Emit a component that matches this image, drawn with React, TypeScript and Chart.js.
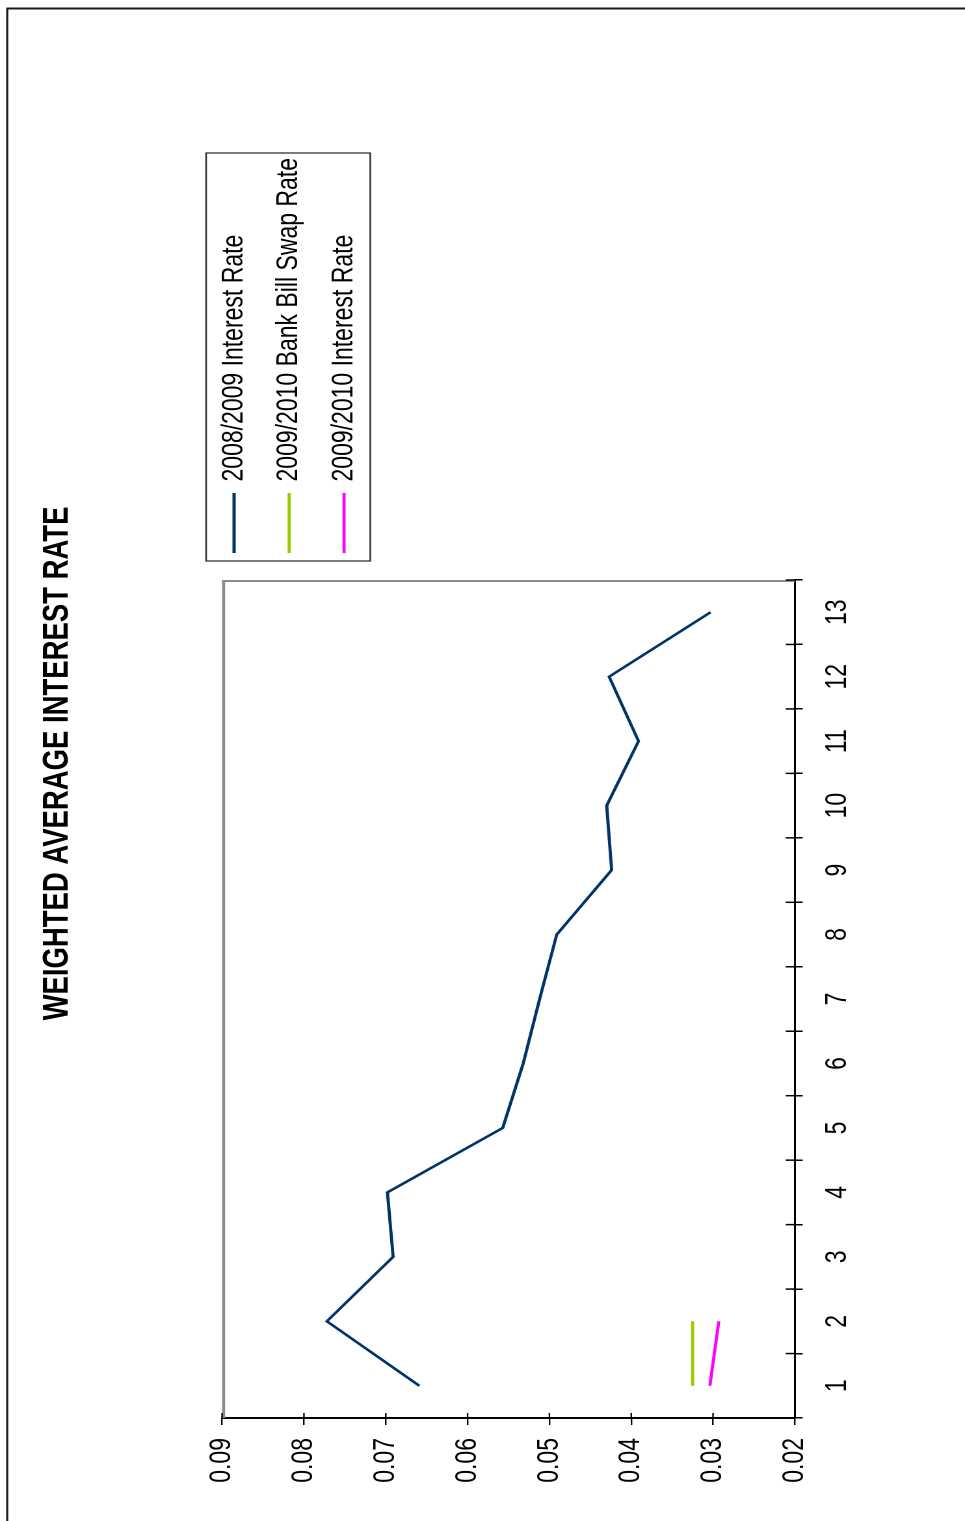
import React, { useEffect, useRef } from 'react';
import { Chart, registerables } from 'chart.js';

Chart.register(...registerables);

// ---- data ----
const TITLE = 'WEIGHTED AVERAGE INTEREST RATE';
const categories = ['1', '2', '3', '4', '5', '6', '7', '8', '9', '10', '11', '12', '13'];
const seriesLabels = [
  '2008/2009 Interest Rate',
  '2009/2010 Bank Bill Swap Rate',
  '2009/2010 Interest Rate',
];
const rate0809 = [0.0659, 0.0772, 0.0691, 0.0698, 0.0557, 0.0532, 0.0512, 0.0491, 0.0424, 0.043, 0.0391, 0.0427, 0.0303];
const swap0910 = [0.0325, 0.0325, null, null, null, null, null, null, null, null, null, null, null];
const rate0910 = [0.0304, 0.0293, null, null, null, null, null, null, null, null, null, null, null];
const Y_MIN = 0.02;
const Y_MAX = 0.09;
const Y_STEP = 0.01;

const FONT = "'Liberation Sans', Arial, sans-serif";
const W = 1521;
const FULL_H = 965;
const H = 742; // drawn height, stretched back to FULL_H
const SY = FULL_H / H;

const decor = {
  id: 'decor',
  afterLayout(chart: any) {
    const lg = chart.legend;
    const ca = chart.chartArea;
    if (!lg) return;
    lg.left = ca.right + 7.7;
    lg.top = ca.top - 21.6;
    lg.right = lg.left + 600;
    lg.bottom = lg.top + 400;
  },
  beforeDraw(chart: any) {
    const { ctx, width, height } = chart;
    ctx.save();
    ctx.fillStyle = '#ffffff';
    ctx.fillRect(0, 0, width, height);
    ctx.strokeStyle = '#1a1a1a';
    ctx.lineWidth = 1.6;
    ctx.beginPath();
    ctx.moveTo(-5, 5.6);
    ctx.lineTo(width - 8.5, 5.6);
    ctx.stroke();
    ctx.lineWidth = 2;
    ctx.beginPath();
    ctx.moveTo(width - 8.5, 5);
    ctx.lineTo(width - 8.5, height + 5);
    ctx.stroke();
    ctx.restore();
  },
  beforeDatasetsDraw(chart: any) {
    const { ctx, chartArea: ca, scales } = chart;
    ctx.save();
    ctx.strokeStyle = '#8c8c8c';
    ctx.lineWidth = 2.3;
    ctx.beginPath();
    ctx.moveTo(ca.left, ca.top + 1.15);
    ctx.lineTo(ca.right, ca.top + 1.15);
    ctx.stroke();
    ctx.lineWidth = 2;
    ctx.beginPath();
    ctx.moveTo(ca.right - 1, ca.top);
    ctx.lineTo(ca.right - 1, ca.bottom);
    ctx.stroke();
    // inner halves of the crossing tick marks
    ctx.strokeStyle = '#000';
    const y = scales.y;
    ctx.lineWidth = 1.2;
    y.ticks.forEach((t: any) => {
      const p = y.getPixelForValue(t.value);
      ctx.beginPath();
      ctx.moveTo(ca.left, p);
      ctx.lineTo(ca.left + 5, p);
      ctx.stroke();
    });
    const x = scales.x;
    ctx.lineWidth = 1.5;
    for (let i = 0; i <= categories.length; i++) {
      const p = x.getPixelForValue(i - 0.5);
      ctx.beginPath();
      ctx.moveTo(p, ca.bottom);
      ctx.lineTo(p, ca.bottom - 7);
      ctx.stroke();
    }
    ctx.restore();
  },
  afterDraw(chart: any) {
    const lg = chart.legend;
    if (!lg) return;
    const { ctx } = chart;
    ctx.save();
    ctx.strokeStyle = '#333';
    ctx.lineWidth = 1.3;
    ctx.strokeRect(lg.left + 11.3, lg.top + 9.3, 408, 126.2);
    ctx.restore();
  },
};

export default function App() {
  const ref = useRef<HTMLCanvasElement | null>(null);

  useEffect(() => {
    if (!ref.current) return;
    document.body.style.overflow = 'hidden';
    const mk = (label: string, data: (number | null)[], color: string) => ({
      label,
      data,
      borderColor: color,
      backgroundColor: color,
      borderWidth: 2.4,
      pointRadius: 0,
      pointBorderWidth: 2.4,
      pointBorderColor: color,
      pointBackgroundColor: color,
      tension: 0,
      fill: false,
    });
    const chart = new Chart(ref.current, {
      type: 'line',
      data: {
        labels: categories,
        datasets: [
          mk(seriesLabels[0], rate0809, '#003366'),
          mk(seriesLabels[1], swap0910, '#99CC00'),
          mk(seriesLabels[2], rate0910, '#FF00FF'),
        ],
      },
      options: {
        animation: false,
        responsive: false,
        devicePixelRatio: 2,
        layout: { padding: { left: 0, right: 6, top: 0, bottom: 0 } },
        plugins: {
          title: {
            display: true,
            text: TITLE,
            color: '#000',
            font: { family: FONT, size: 27.5, weight: 'bold' },
            padding: { top: 27.7, bottom: 110.1 },
          },
          legend: {
            display: true,
            position: 'chartArea' as any,
            align: 'start',
            labels: {
              color: '#000',
              font: { family: FONT, size: 23 },
              usePointStyle: true,
              pointStyle: 'line',
              pointStyleWidth: 60,
              padding: 19.3,
            },
          },
          tooltip: { enabled: false },
        },
        scales: {
          x: {
            type: 'category',
            offset: true,
            grid: { offset: true, drawOnChartArea: false, tickLength: 6, color: '#000', lineWidth: 1.5 },
            border: { display: true, color: '#000', width: 1.5 },
            ticks: { color: '#000', font: { family: FONT, size: 23 }, padding: 13.3, maxRotation: 0, autoSkip: false },
            afterFit: (s: any) => {
              s.height = 130.8;
            },
          },
          y: {
            type: 'linear',
            position: 'left',
            min: Y_MIN,
            max: Y_MAX,
            grid: { drawOnChartArea: false, tickLength: 7, color: '#000', lineWidth: 1.2 },
            border: { display: true, color: '#000', width: 2 },
            ticks: {
              stepSize: Y_STEP,
              color: '#000',
              font: { family: FONT, size: 23 },
              padding: 13,
              callback: (v: any) => Number(v).toFixed(2),
            },
            afterFit: (s: any) => {
              s.width = 103;
            },
          },
          yr: {
            type: 'linear',
            position: 'right',
            display: true,
            grid: { display: false },
            border: { display: false },
            ticks: { display: false },
            afterFit: (s: any) => {
              s.width = 574;
            },
          },
        },
      } as any,
      plugins: [decor],
    });
    return () => chart.destroy();
  }, []);

  return (
    <div
      style={{
        position: 'absolute',
        left: 0,
        top: 0,
        width: W,
        height: H,
        transformOrigin: '0 0',
        transform: `translate(0px, ${W}px) rotate(-90deg) scale(1, ${SY})`,
      }}
    >
      <canvas ref={ref} width={W} height={H} />
    </div>
  );
}
